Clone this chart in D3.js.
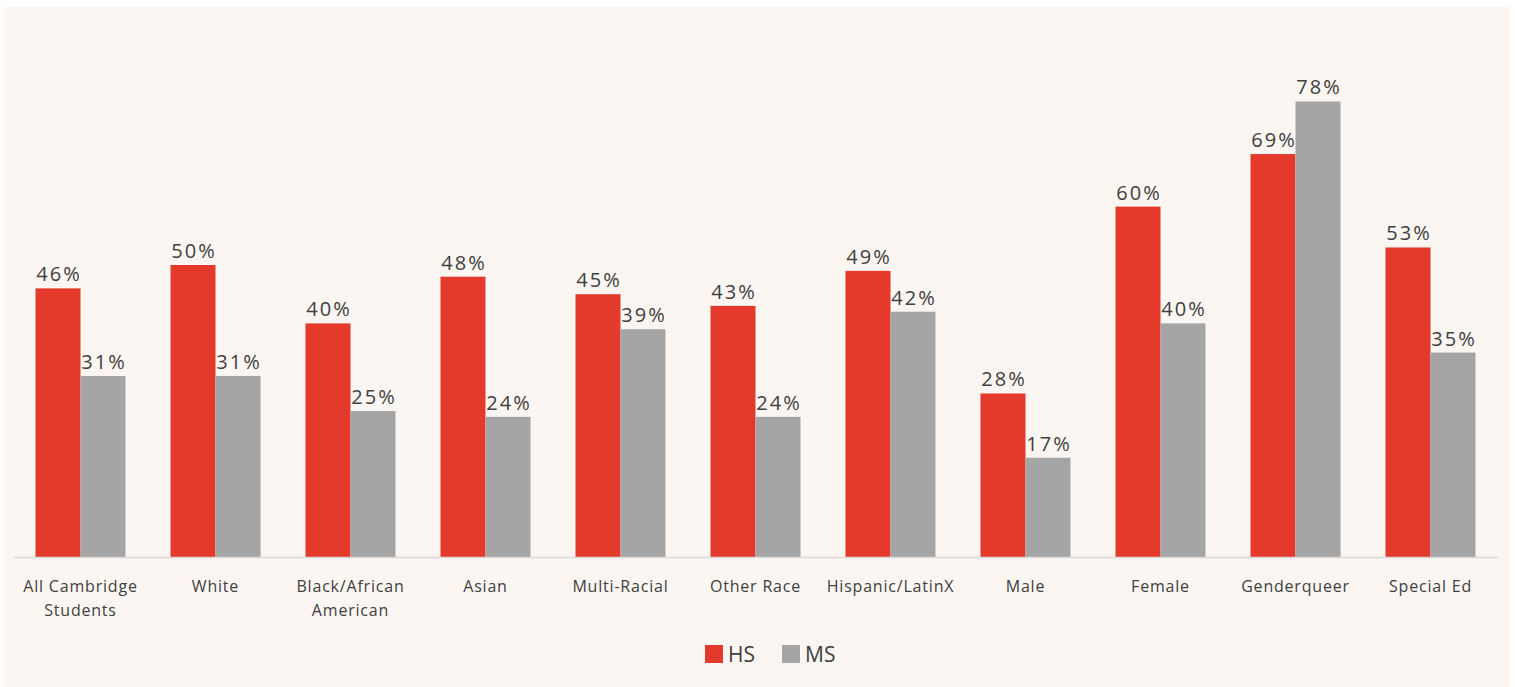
<!DOCTYPE html>
<html><head><meta charset="utf-8">
<script src="https://cdn.jsdelivr.net/npm/d3@7"></script>
<style>body{margin:0;background:#fff;}svg{display:block;}</style>
</head><body>
<script>
const categories = [["All Cambridge","Students"],["White"],["Black/African","American"],["Asian"],["Multi-Racial"],["Other Race"],["Hispanic/LatinX"],["Male"],["Female"],["Genderqueer"],["Special Ed"]];
const seriesNames = ["HS","MS"];
const hsValues = [46,50,40,48,45,43,49,28,60,69,53];
const msValues = [31,31,25,24,39,24,42,17,40,78,35];
const colors = ["#e43a2b","#a5a5a5"];

const W = 1515, H = 687;
const svg = d3.select("body").append("svg").attr("width", W).attr("height", H);
svg.append("rect").attr("x",4).attr("y",7).attr("width",1506).attr("height",H-7).attr("fill","#fcf6f2");

const font = "'Open Sans', sans-serif";
const keys = categories.map(c => c.join(" "));
const x = d3.scaleBand().domain(keys).range([13,1498]).paddingInner(1/3).paddingOuter(1/6);
const xs = d3.scaleBand().domain(seriesNames).range([0, x.bandwidth()]);
const y = d3.scaleLinear().domain([0,100]).range([557, 557-584]);

const data = keys.map((k,i) => ({key:k, vals:[hsValues[i], msValues[i]]}));

const g = svg.append("g");
const grp = g.selectAll("g.cat").data(data).join("g").attr("transform", d => `translate(${x(d.key)},0)`);
grp.selectAll("rect").data(d => d.vals.map((v,j)=>({s:seriesNames[j], v, j}))).join("rect")
  .attr("x", d => xs(d.s)).attr("width", xs.bandwidth())
  .attr("y", d => y(d.v)).attr("height", d => y(0)-y(d.v))
  .attr("fill", d => colors[d.j]);
grp.selectAll("text.val").data(d => d.vals.map((v,j)=>({s:seriesNames[j], v, j}))).join("text")
  .attr("class","val")
  .attr("x", d => xs(d.s)+xs.bandwidth()/2 + 1).attr("y", d => y(d.v)-7)
  .attr("text-anchor","middle").attr("font-family",font).attr("font-size",20)
  .attr("letter-spacing","2px").attr("fill","#404040")
  .text(d => d.v + "%");

// axis baseline
const axis = d3.axisBottom(x).tickSize(0).tickFormat("");
const ag = svg.append("g").attr("transform","translate(0,557)").call(axis);
ag.select(".domain").attr("stroke","#d9d9d9").attr("stroke-width",1.5);

// category labels
const lbl = svg.append("g").selectAll("text").data(categories).join("text")
  .attr("x", (d,i) => x(keys[i]) + x.bandwidth()/2)
  .attr("y", 592)
  .attr("text-anchor","middle").attr("font-family",font).attr("font-size",16)
  .attr("letter-spacing","0.8px").attr("fill","#404040");
lbl.selectAll("tspan").data(d => d).join("tspan")
  .attr("x", function(){ return this.parentNode.getAttribute("x"); })
  .attr("dy", (d,i) => i===0 ? 0 : 24)
  .text(d => d);

// legend
const leg = svg.append("g");
const legPos = [705, 782];
seriesNames.forEach((s,i) => {
  leg.append("rect").attr("x", legPos[i]).attr("y",645).attr("width",18).attr("height",18).attr("fill",colors[i]);
  leg.append("text").attr("x", legPos[i]+23).attr("y",662).attr("font-family",font).attr("font-size",21)
    .attr("fill","#404040").text(s);
});
</script>
</body></html>
